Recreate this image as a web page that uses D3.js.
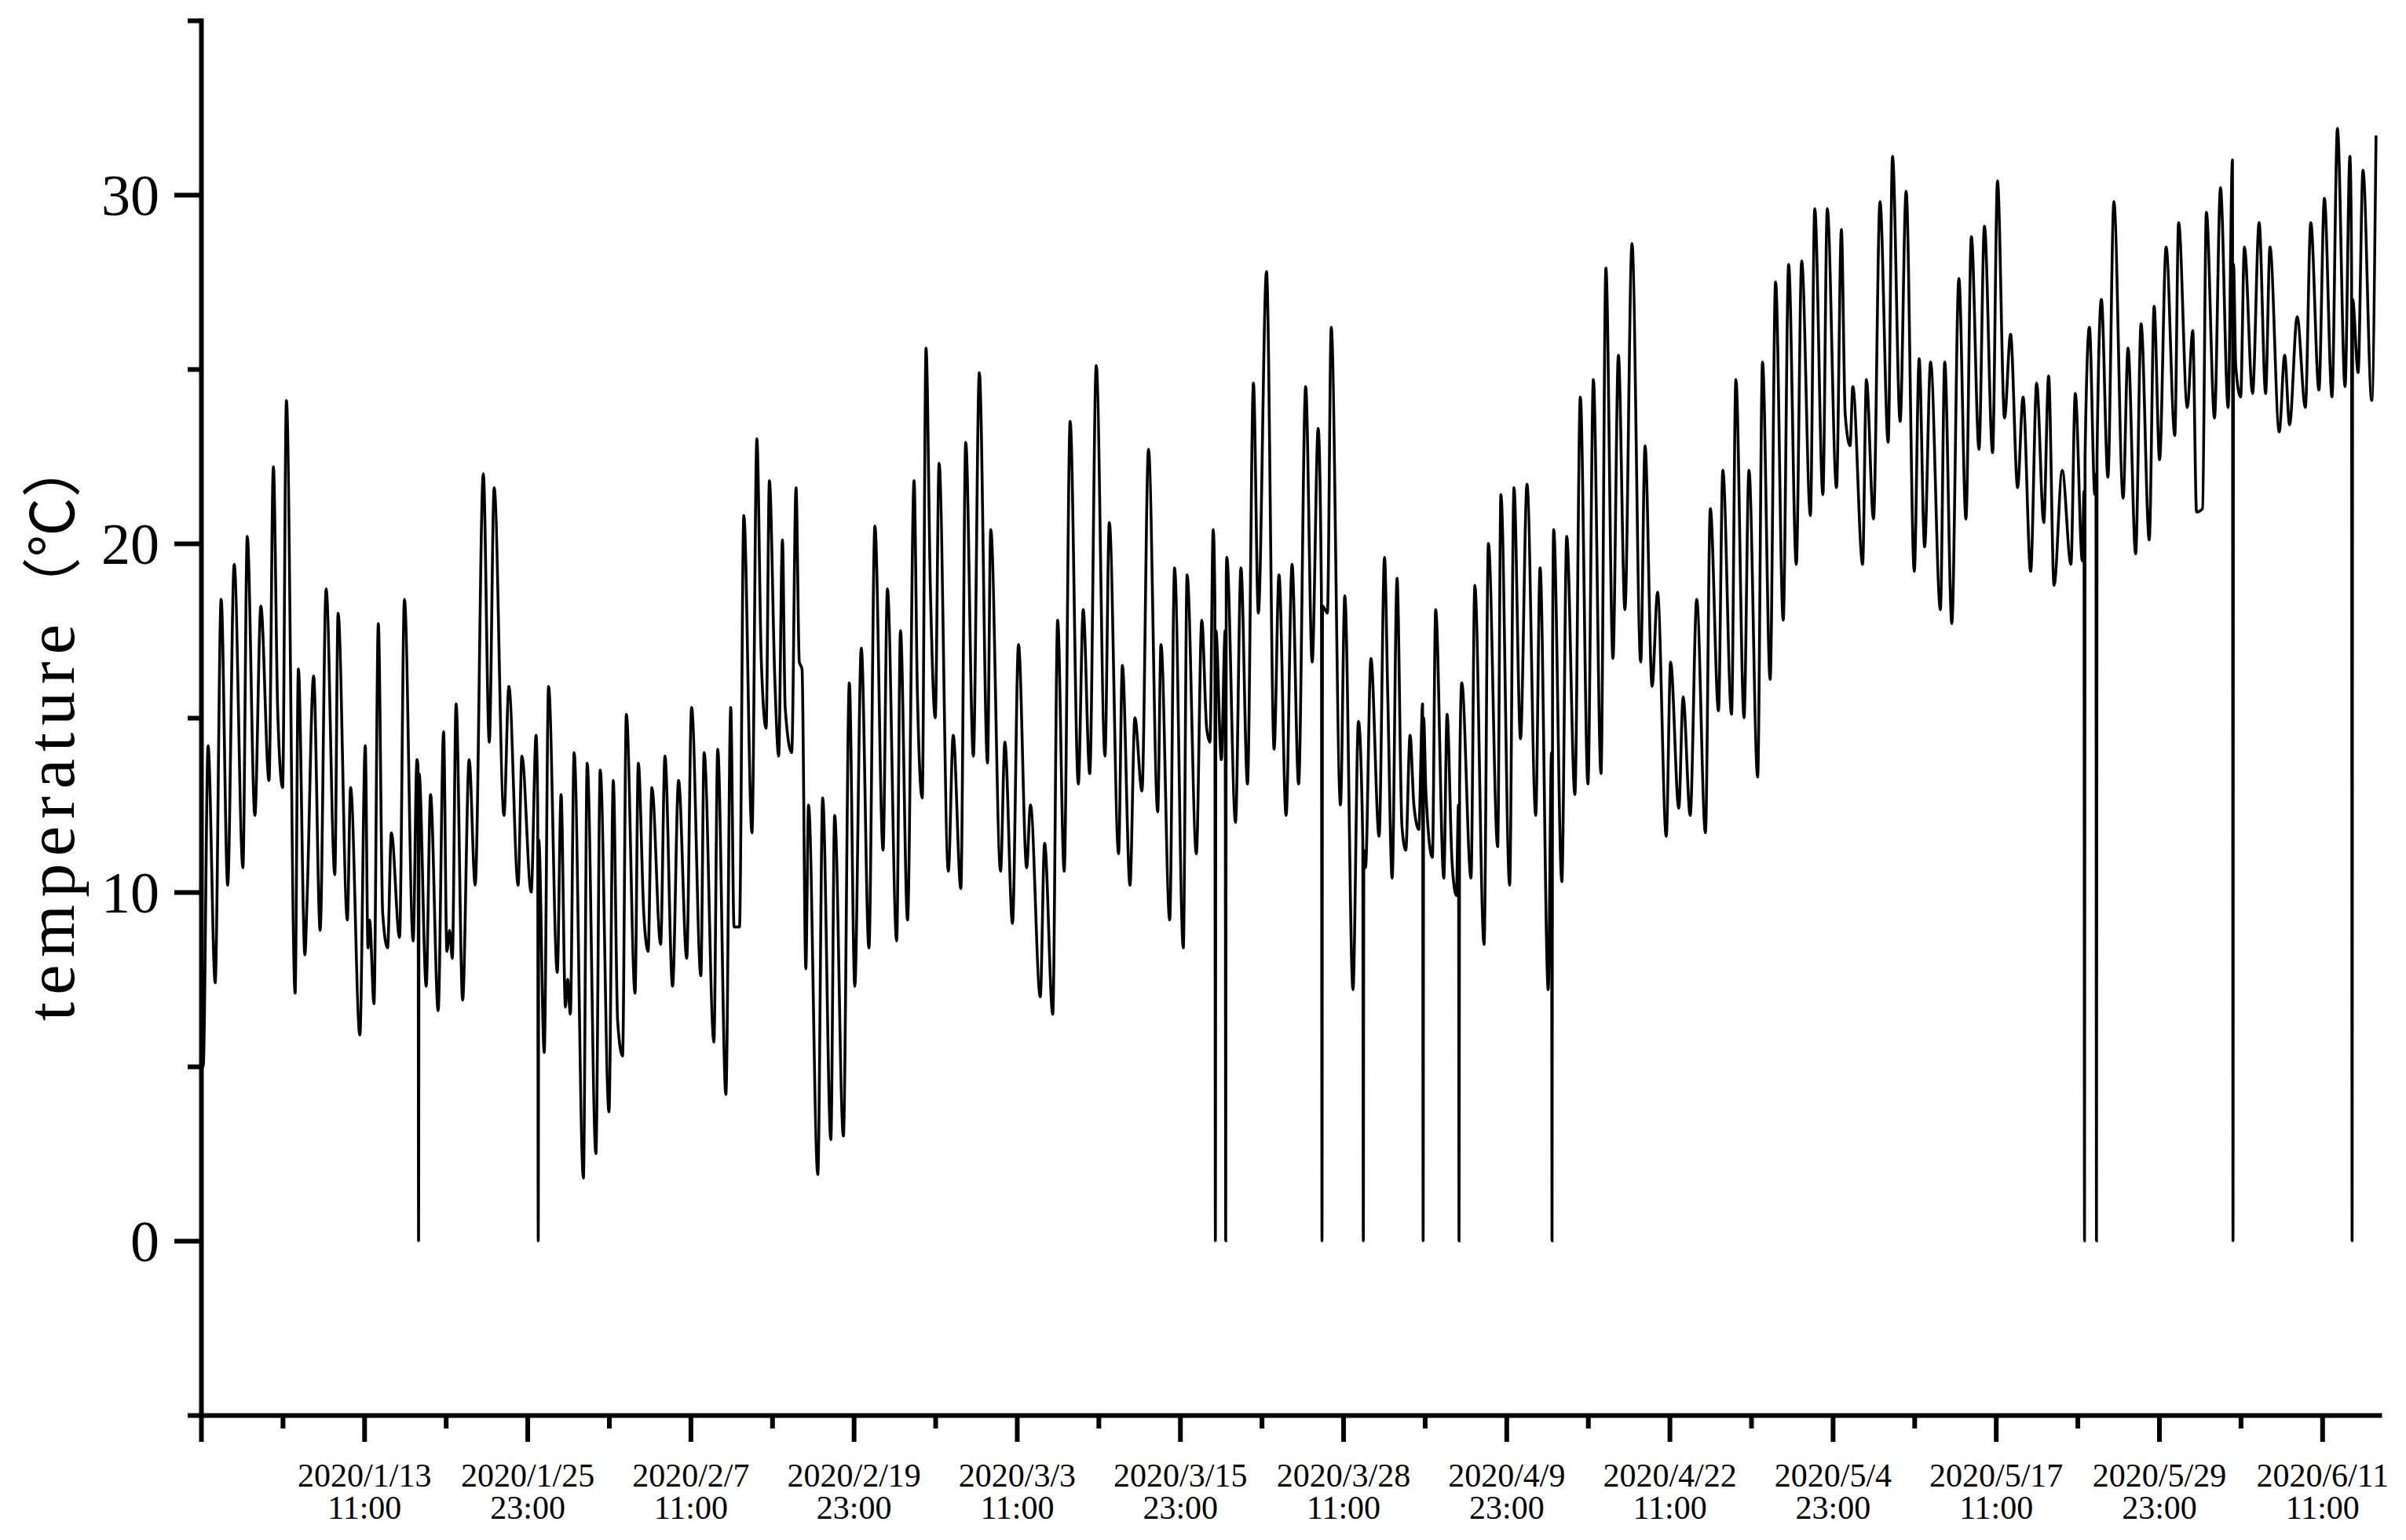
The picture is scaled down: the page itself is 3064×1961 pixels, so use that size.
<!DOCTYPE html>
<html>
<head>
<meta charset="utf-8">
<script src="https://cdn.jsdelivr.net/npm/d3@7"></script>
<style>
  body { margin: 0; background: #fff; }
  svg { display: block; }
</style>
</head>
<body>
<div id="chart"></div>
<script>
(function() {
	var width = 3064, height = 1961;

	// row index (hourly, row 1 = 2020/1/1 0:00) and temperature at each turning point
	var hours = [1,4,13,26,37,49,61,77,85,99,110,125,133,141,150,157,173,179,191,195,207,219,230,246,252,269,275,292,302,307,310,318,326,334,343,350,365,374,390,397,399,400,401,414,422,436,446,452,457,462,469,481,493,504,519,530,539,557,566,583,590,607,616,619,620,621,631,639,655,662,670,674,679,686,703,710,726,734,750,758,766,775,782,798,804,814,822,829,845,853,867,878,893,902,919,925,943,950,965,974,980,990,998,1013,1022,1030,1039,1045,1055,1062,1069,1074,1086,1094,1100,1105,1112,1117,1134,1143,1158,1165,1181,1192,1202,1214,1228,1239,1254,1262,1279,1286,1299,1311,1317,1326,1333,1341,1350,1357,1374,1383,1397,1406,1420,1431,1446,1452,1470,1478,1492,1503,1518,1525,1543,1551,1566,1575,1587,1598,1613,1622,1634,1646,1662,1670,1687,1694,1708,1717,1730,1742,1759,1765,1781,1790,1806,1813,1830,1840,1849,1855,1861,1864,1865,1866,1876,1883,1884,1885,1886,1902,1912,1924,1935,1944,1959,1973,1982,1995,2006,2018,2031,2043,2054,2060,2061,2062,2071,2078,2095,2103,2118,2128,2136,2137,2138,2141,2151,2166,2176,2182,2190,2199,2208,2215,2223,2230,2239,2246,2247,2248,2252,2264,2270,2285,2291,2300,2308,2312,2313,2314,2318,2335,2342,2359,2367,2384,2390,2406,2414,2426,2438,2454,2462,2477,2483,2484,2485,2487,2502,2511,2526,2536,2550,2560,2574,2583,2596,2606,2618,2631,2647,2655,2668,2678,2694,2702,2717,2725,2738,2750,2766,2775,2790,2798,2814,2822,2837,2846,2862,2871,2885,2895,2909,2919,2933,2943,2959,2967,2982,2990,3007,3016,3023,3032,3037,3055,3062,3075,3087,3102,3110,3124,3135,3150,3159,3169,3180,3198,3206,3219,3232,3245,3255,3269,3279,3294,3303,3316,3327,3340,3350,3364,3375,3388,3397,3407,3422,3438,3446,3459,3462,3463,3464,3472,3482,3484,3485,3486,3494,3506,3517,3534,3543,3557,3567,3582,3591,3601,3613,3629,3636,3652,3662,3669,3680,3687,3702,3713,3727,3735,3736,3737,3741,3750,3757,3772,3784,3796,3804,3821,3831,3840,3854,3869,3879,3894,3904,3918,3928,3942,3951,3954,3955,3956,3966,3975,3991,3999];

	var temps = [10.0,5.0,14.2,7.4,18.4,10.2,19.4,10.7,20.2,12.2,18.2,13.2,22.2,15.2,13.0,24.1,7.1,16.4,8.2,9.8,16.2,8.9,18.7,10.5,18.0,9.2,13.0,5.9,14.2,8.4,9.2,6.8,17.7,9.4,8.4,11.7,8.7,18.4,8.6,13.8,13.6,0,13.4,7.3,12.8,6.6,14.6,8.3,8.9,8.1,15.4,6.9,13.8,10.2,22.0,14.3,21.6,12.2,15.9,10.2,13.9,10.0,14.5,12.5,0,11.5,5.4,15.9,7.7,12.8,6.7,7.5,6.5,14.0,1.8,13.7,2.5,13.5,3.7,13.2,6.3,5.3,15.1,7.1,13.7,9.4,8.3,13.0,8.5,13.9,7.3,13.2,8.1,15.3,7.6,14.0,5.7,14.1,4.2,15.3,9.0,9.0,20.8,11.7,23.0,16.7,14.7,21.8,16.1,13.9,20.1,15.3,14.0,21.6,16.6,16.4,7.8,12.5,1.9,12.7,2.9,12.2,3.0,16.0,7.3,17.0,8.4,20.5,11.2,18.7,8.6,17.5,9.2,21.8,15.8,12.7,25.6,18.7,15.0,22.3,10.6,14.5,10.1,22.9,13.9,24.9,13.7,20.4,10.6,14.3,9.1,17.1,10.7,12.5,7.0,11.4,6.5,17.8,10.6,23.5,13.1,18.1,13.4,25.1,13.9,20.6,11.1,16.5,10.2,15.0,12.9,22.7,12.3,17.1,9.2,19.3,8.4,19.1,11.1,17.8,14.7,14.3,20.4,18.5,0,17.5,13.8,17.5,0,19.0,19.6,12.0,19.3,13.1,24.6,18.0,27.8,14.1,19.1,12.2,19.4,13.1,24.5,16.6,23.3,18.5,0,18.2,18.0,26.2,12.5,18.5,7.2,14.9,11.5,0,11.2,10.7,16.7,11.6,19.6,15.6,10.4,19.0,11.9,11.2,14.5,12.5,11.8,15.4,0,15.0,12.9,11.0,18.1,10.4,15.1,10.9,9.9,12.5,0,13.0,16.0,10.4,18.8,8.5,20.0,11.3,21.4,10.2,21.6,14.4,21.7,12.2,19.3,7.2,14.0,0,17.0,20.4,10.3,20.2,12.8,24.2,13.1,24.7,13.4,27.9,16.7,25.4,18.1,28.6,16.6,22.8,15.9,18.6,11.6,16.6,12.4,15.6,12.2,18.4,11.7,21.0,15.2,22.1,15.1,24.7,15.0,22.1,13.3,25.2,16.1,27.5,17.8,28.0,19.4,28.1,20.8,29.6,21.4,29.6,21.6,29.0,23.7,22.8,24.5,19.4,24.7,20.7,29.8,22.9,31.1,23.5,30.1,19.2,25.3,19.9,25.2,18.1,25.2,17.7,27.6,20.7,28.8,22.7,29.1,22.6,30.4,23.6,26.0,21.6,24.2,19.2,24.6,20.6,24.8,18.8,22.1,19.4,24.3,19.5,21.5,0,22.5,26.2,21.4,22.0,0,22.5,27.0,21.9,29.8,21.3,25.6,19.7,26.3,20.1,26.8,22.4,28.5,23.1,29.2,23.9,26.1,20.9,21.0,29.5,23.6,30.2,23.9,31.0,0,28.0,25.1,24.2,28.5,24.3,29.2,24.3,28.5,23.2,25.4,23.4,26.5,23.9,29.2,24.4,29.9,24.2,31.9,24.5,31.1,28.0,0,27.0,24.9,30.7,24.1,31.7];

	var majorTicks = [300,600,900,1200,1500,1800,2100,2400,2700,3000,3300,3600,3900];
	var tickDates = ["2020/1/13","2020/1/25","2020/2/7","2020/2/19","2020/3/3","2020/3/15","2020/3/28","2020/4/9","2020/4/22","2020/5/4","2020/5/17","2020/5/29","2020/6/11"];
	var tickTimes = ["11:00","23:00","11:00","23:00","11:00","23:00","11:00","23:00","11:00","23:00","11:00","23:00","11:00"];
	var yMajor = [0,10,20,30];
	var yMinor = [-5,5,15,25,35];

	var data = hours.map(function(h, i) { return {h: h, t: temps[i]} })

	var svg = d3.select("#chart")
		.append("svg")
		.attr("width", width)
		.attr("height", height)

	svg.append("rect").attr("width", width).attr("height", height).attr("fill", "#fff")

	var x = d3.scaleLinear().domain([0, 4005]).range([256, 3030])
	var y = d3.scaleLinear().domain([-5, 35]).range([1802, 26])

	// the temperature line (monotone keeps the read peaks and troughs exact)
	var line = d3.line()
		.curve(d3.curveMonotoneX)
		.x(function(d) { return x(d.h) })
		.y(function(d) { return y(d.t) })

	svg.append("path")
		.datum(data)
		.attr("fill", "none")
		.attr("stroke", "#000")
		.attr("stroke-width", 3.6)
		.attr("d", line)

	// x axis: minor ticks, then major ticks with the domain line
	svg.append("g")
		.attr("transform", "translate(0," + y(-5) + ")")
		.call(d3.axisBottom(x).tickValues(d3.range(150, 4005, 300)).tickSize(17).tickSizeOuter(0).tickFormat(""))
		.call(function(g) { g.select(".domain").remove() })

	var xAxis = svg.append("g")
		.attr("transform", "translate(0," + y(-5) + ")")
		.call(d3.axisBottom(x).tickValues([0].concat(majorTicks)).tickSize(34).tickSizeOuter(0).tickFormat(""))

	xAxis.selectAll(".tick").each(function(d) {
		var i = majorTicks.indexOf(d)
		if (i < 0) return
		var t = d3.select(this).append("text")
			.attr("fill", "#000")
			.attr("text-anchor", "middle")
			.style("font-family", "'Liberation Serif', 'Times New Roman', serif")
			.style("font-size", "42px")
		t.append("tspan").attr("x", 0).attr("y", 91).text(tickDates[i])
		t.append("tspan").attr("x", 0).attr("y", 132).text(tickTimes[i])
	})

	// y axis
	svg.append("g")
		.attr("transform", "translate(" + x(0) + ",0)")
		.call(d3.axisLeft(y).tickValues(yMinor).tickSize(17).tickSizeOuter(0).tickFormat(""))
		.call(function(g) { g.select(".domain").remove() })

	svg.append("g")
		.attr("transform", "translate(" + x(0) + ",0)")
		.call(d3.axisLeft(y).tickValues(yMajor).tickSize(34).tickSizeOuter(0).tickFormat(d3.format("d")))
		.call(function(g) {
			g.selectAll("text")
				.attr("x", -53)
				.attr("dy", "0.34em")
				.attr("fill", "#000")
				.style("font-family", "'Liberation Serif', 'Times New Roman', serif")
				.style("font-size", "74px")
		})

	svg.selectAll(".domain, .tick line")
		.attr("stroke", "#000")
		.attr("stroke-width", 6)
	svg.selectAll(".domain").attr("stroke-linecap", "square")

	// y axis title, the word spaced out a little like the original
	var title = svg.append("text")
		.attr("transform", "translate(94,933) rotate(-90)")
		.attr("x", -367)
		.style("font-family", "'Liberation Serif', 'Noto Sans CJK SC', serif")
		.style("font-size", "86px")
	title.append("tspan")
		.attr("textLength", 505)
		.attr("lengthAdjust", "spacing")
		.text("temperature")
	title.append("tspan")
		.style("font-size", "76px")
		.text("（℃）")
})();
</script>
</body>
</html>
